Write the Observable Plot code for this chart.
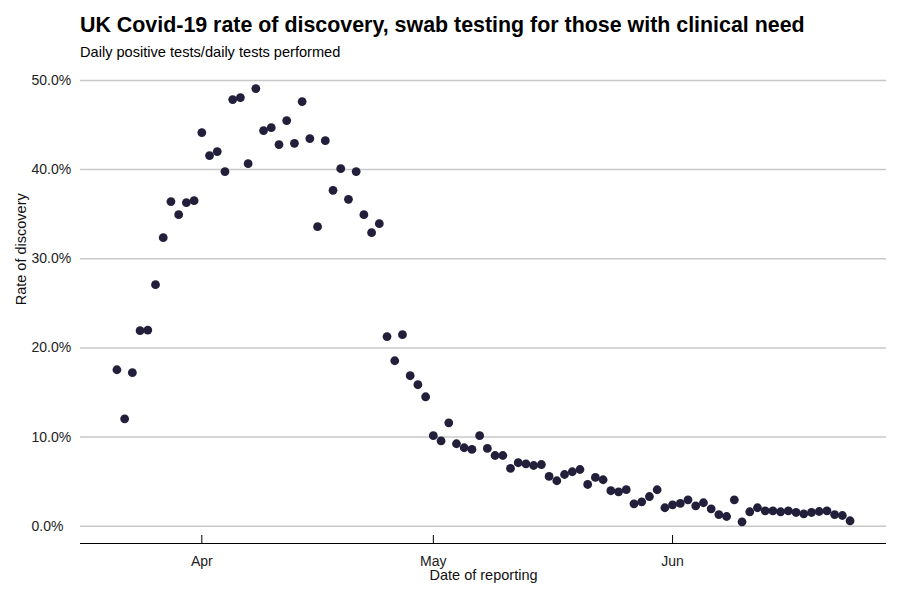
<!DOCTYPE html>
<html>
<head>
<meta charset="utf-8">
<script src="https://cdn.jsdelivr.net/npm/d3@7"></script>
<script src="https://cdn.jsdelivr.net/npm/@observablehq/plot@0.6"></script>
<style>
  html, body { margin: 0; padding: 0; background: #fff; }
  body { width: 900px; height: 600px; position: relative; overflow: hidden; font-family: "Liberation Sans", Arial, sans-serif; }
  #header { position: relative; height: 62px; }
  #title { position: absolute; left: 80px; top: 15.2px; font-size: 21.4px; line-height: 21.4px; font-weight: bold; color: #000; white-space: nowrap; }
  #subtitle { position: absolute; left: 80px; top: 44.6px; font-size: 14.6px; line-height: 14.6px; color: #000; white-space: nowrap; }
  #chart svg { display: block; }
</style>
</head>
<body>
<div id="header">
  <div id="title">UK Covid-19 rate of discovery, swab testing for those with clinical need</div>
  <div id="subtitle">Daily positive tests/daily tests performed</div>
</div>
<div id="chart"></div>
<script>
// Daily series, first reporting date
const startDate = "2020-03-21";
// Rate of discovery (%), one value per consecutive day
const rates = [
  17.55, 12.05, 17.22, 21.93, 22.00, 27.09, 32.37, 36.41, 34.95, 36.30,
  36.52, 44.15, 41.57, 42.02, 39.78, 47.86, 48.08, 40.67, 49.09, 44.38,
  44.71, 42.81, 45.50, 42.95, 47.63, 43.48, 33.60, 43.25, 37.68, 40.11,
  36.67, 39.78, 34.95, 32.93, 33.94, 21.27, 18.56, 21.48, 16.88, 15.87,
  14.52, 10.15, 9.58, 11.60, 9.25, 8.80, 8.61, 10.15, 8.72, 7.93,
  7.93, 6.48, 7.12, 7.00, 6.81, 6.92, 5.58, 5.10, 5.80, 6.11,
  6.36, 4.68, 5.47, 5.21, 3.98, 3.86, 4.10, 2.51, 2.74, 3.33,
  4.09, 2.07, 2.40, 2.55, 2.96, 2.29, 2.63, 1.95, 1.31, 1.09,
  2.96, 0.49, 1.62, 2.07, 1.73, 1.73, 1.62, 1.73, 1.54, 1.39,
  1.54, 1.65, 1.73, 1.31, 1.20, 0.61
];
const xTickDates = ["2020-04-01", "2020-05-01", "2020-06-01"];
const yTicks = [0, 10, 20, 30, 40, 50];

const start = new Date(startDate + "T00:00:00Z");
const data = rates.map((r, i) => ({date: d3.utcDay.offset(start, i), rate: r}));
const xTicks = xTickDates.map(s => new Date(s + "T00:00:00Z"));

const first = data[0].date, last = data[data.length - 1].date;
const pad = 4.72 * 864e5;
const xDomain = [new Date(+first - pad), new Date(+last + pad)];
const yDomain = [-1.94, 51.5];

const W = 900, H = 538, mTop = 4.6, mBottom = 57, mLeft = 80, mRight = 14;
const plotH = H - mTop - mBottom;

const chart = Plot.plot({
  width: W,
  height: H,
  marginTop: mTop,
  marginBottom: mBottom,
  marginLeft: mLeft,
  marginRight: mRight,
  style: {fontFamily: '"Liberation Sans", Arial, sans-serif', fontSize: "14px", background: "#fff", color: "#222"},
  x: {type: "utc", domain: xDomain},
  y: {domain: yDomain},
  marks: [
    Plot.gridY(yTicks, {stroke: "#c8c8c8", strokeOpacity: 1, strokeWidth: 1.5}),
    Plot.ruleY([yDomain[0]], {stroke: "#000", strokeWidth: 1.2}),
    Plot.tickX(xTicks, {stroke: "#000", strokeWidth: 1, insetTop: plotH - 8}),
    Plot.axisY(yTicks, {tickSize: 0, tickPadding: 0, textAnchor: "start", dx: -49, tickFormat: d => d.toFixed(1) + "%", fontSize: 14, fill: "#222", label: null}),
    Plot.axisX(xTicks, {tickSize: 0, tickPadding: 12.5, tickFormat: d3.utcFormat("%b"), fontSize: 14, fill: "#222", label: null}),
    Plot.text(["Date of reporting"], {frameAnchor: "bottom", dy: 31.5, lineAnchor: "middle", fontSize: 14.5, fill: "#111"}),
    Plot.text(["Rate of discovery"], {frameAnchor: "left", dx: -59, rotate: -90, lineAnchor: "middle", fontSize: 14.5, fill: "#111"}),
    Plot.dot(data, {x: "date", y: "rate", r: 4.4, fill: "#221f3b", stroke: "none"})
  ]
});
document.getElementById("chart").appendChild(chart);
</script>
</body>
</html>
